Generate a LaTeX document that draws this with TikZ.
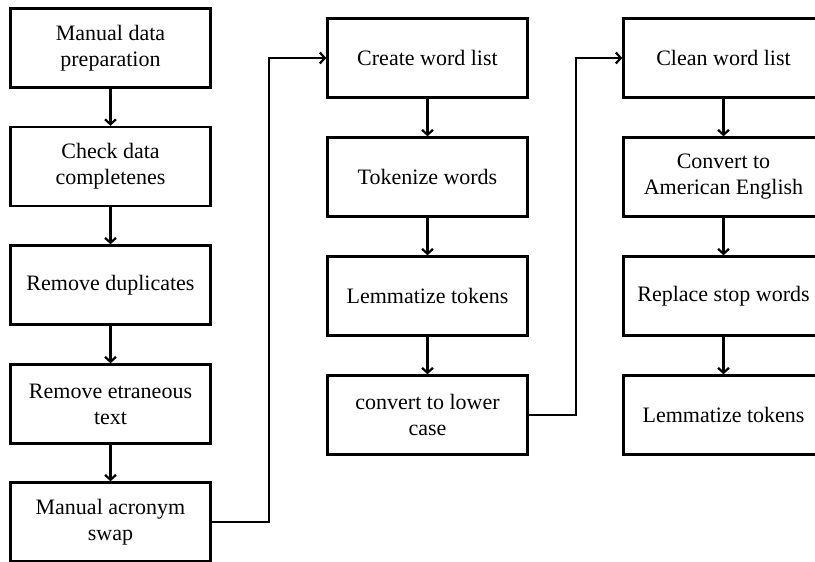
\documentclass[tikz,border=0pt]{standalone}
\usepackage{fontspec}
\setmainfont{Liberation Serif}
\usetikzlibrary{arrows.meta}

\begin{document}
\begin{tikzpicture}[x=1pt, y=-1pt,
		box/.style={draw, line width=2.4pt, minimum width=200pt, minimum height=79pt,
			align=center, inner sep=2pt, font=\fontsize{22}{26}\selectfont},
		flow/.style={line width=2.2pt, -{Straight Barb[length=5pt,width=11pt]}}]
		%%%%% START %%%%%
		
		\fill[white] (0, 0) rectangle (815, 562);
		\useasboundingbox (0, 0) rectangle (815, 562);
		
		% first column
		\node[box] (m1) at (110.5, 48) {Manual data\\preparation};
		\node[box] (m2) at (110.5, 166.5) {Check data\\completenes};
		\node[box] (m3) at (110.5, 285) {Remove duplicates};
		\node[box] (m4) at (110.5, 404) {Remove etraneous\\text};
		\node[box] (m5) at (110.5, 522) {Manual acronym\\swap};
		
		% second column
		\node[box] (w1) at (427.5, 58) {Create word list};
		\node[box] (w2) at (427.5, 177) {Tokenize words};
		\node[box] (w3) at (427.5, 296) {Lemmatize tokens};
		\node[box] (w4) at (427.5, 415) {convert to lower\\case};
		
		% third column
		\node[box] (c1) at (723.5, 58) {Clean word list};
		\node[box] (c2) at (723.5, 177) {Convert to\\American English};
		\node[box] (c3) at (723.5, 296) {Replace stop words};
		\node[box] (c4) at (723.5, 415) {Lemmatize tokens};
		
		\draw[flow] (m1) -- (m2);
		\draw[flow] (m2) -- (m3);
		\draw[flow] (m3) -- (m4);
		\draw[flow] (m4) -- (m5);
		
		\draw[flow] (w1) -- (w2);
		\draw[flow] (w2) -- (w3);
		\draw[flow] (w3) -- (w4);
		
		\draw[flow] (c1) -- (c2);
		\draw[flow] (c2) -- (c3);
		\draw[flow] (c3) -- (c4);
		
		\draw[flow] (m5.east) -- ++(57, 0) |- (w1.west);
		\draw[flow] (w4.east) -- ++(47, 0) |- (c1.west);
		
		%%%%% END %%%%%
	\end{tikzpicture}
\end{document}
